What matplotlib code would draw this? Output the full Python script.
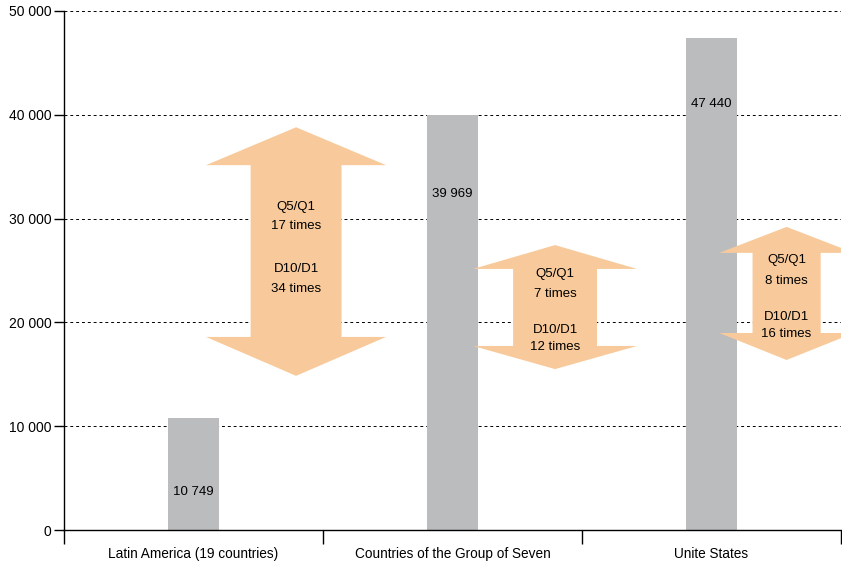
import matplotlib
matplotlib.use("Agg")
import matplotlib.pyplot as plt
from matplotlib.patches import Polygon
from matplotlib.ticker import FuncFormatter

plt.rcParams['font.family'] = ['Liberation Sans', 'DejaVu Sans']

categories = ["Latin America (19 countries)", "Countries of the Group of Seven", "Unite States"]
values = [10749, 39969, 47440]
value_labels = ["10 749", "39 969", "47 440"]
label_y = [3700, 32400, 41000]

# arrows: (center x, top tip, head base top, head base bottom, bottom tip)
arrow_cx = [0.896, 1.896, 2.79]
arrow_top = [38800, 27450, 29200]
arrow_head_top = [35150, 25150, 26700]
arrow_head_bot = [18600, 17730, 18980]
arrow_bot = [14850, 15500, 16380]
arrow_shaft_w = [0.351, 0.324, 0.263]
arrow_head_w = [0.695, 0.633, 0.52]
ratio_q = ["17 times", "7 times", "8 times"]
ratio_d = ["34 times", "12 times", "16 times"]
text_y = [(31100, 29280, 25140, 23210), (24660, 22730, 19260, 17620), (26000, 23980, 20510, 18870)]

fig = plt.figure(figsize=(8.42, 5.63), dpi=100)
ax = fig.add_axes([64/842, 1-530/563, (841-64)/842, (530-11)/563])

x = [i + 0.5 for i in range(len(categories))]
ax.bar(x, values, width=0.2, color='#BBBCBE', zorder=2)
for xi, lab, ly in zip(x, value_labels, label_y):
    ax.text(xi, ly, lab, ha='center', va='center', fontsize=9.5, zorder=5)

arrow_color = '#F8CA9B'
for i in range(3):
    cx = arrow_cx[i]
    sw = arrow_shaft_w[i] / 2
    hw = arrow_head_w[i] / 2
    pts = [
        (cx, arrow_top[i]),
        (cx + hw, arrow_head_top[i]),
        (cx + sw, arrow_head_top[i]),
        (cx + sw, arrow_head_bot[i]),
        (cx + hw, arrow_head_bot[i]),
        (cx, arrow_bot[i]),
        (cx - hw, arrow_head_bot[i]),
        (cx - sw, arrow_head_bot[i]),
        (cx - sw, arrow_head_top[i]),
        (cx - hw, arrow_head_top[i]),
    ]
    poly = Polygon(pts, closed=True, facecolor=arrow_color, edgecolor='none', zorder=3)
    ax.add_patch(poly)
    ty = text_y[i]
    for t, yy in zip(["Q5/Q1", ratio_q[i], "D10/D1", ratio_d[i]], ty):
        ax.text(cx, yy, t, ha='center', va='center', fontsize=9.5, zorder=5)

ax.set_xlim(0, 3)
ax.set_ylim(0, 50000)
ax.set_yticks(range(0, 50001, 10000))
ax.yaxis.set_major_formatter(FuncFormatter(lambda v, p: f"{int(v):,}".replace(",", " ")))
ax.set_xticks([0, 1, 2, 3])
ax.set_xticklabels([])
ax.set_xticks(x, minor=True)
ax.set_xticklabels(categories, minor=True)
ax.tick_params(axis='x', which='minor', length=0, pad=12, labelsize=9.8)
ax.tick_params(axis='x', which='major', length=10, width=1, direction='out')
ax.tick_params(axis='y', length=7, width=1, labelsize=10, pad=2)

for yv in range(10000, 50001, 10000):
    ax.axhline(yv, color='black', linestyle=(0, (3, 3)), linewidth=0.7, zorder=1)

ax.spines['top'].set_visible(False)
ax.spines['right'].set_visible(False)
ax.spines['left'].set_linewidth(1)
ax.spines['bottom'].set_linewidth(1)

fig.savefig("out.png", dpi=100)
